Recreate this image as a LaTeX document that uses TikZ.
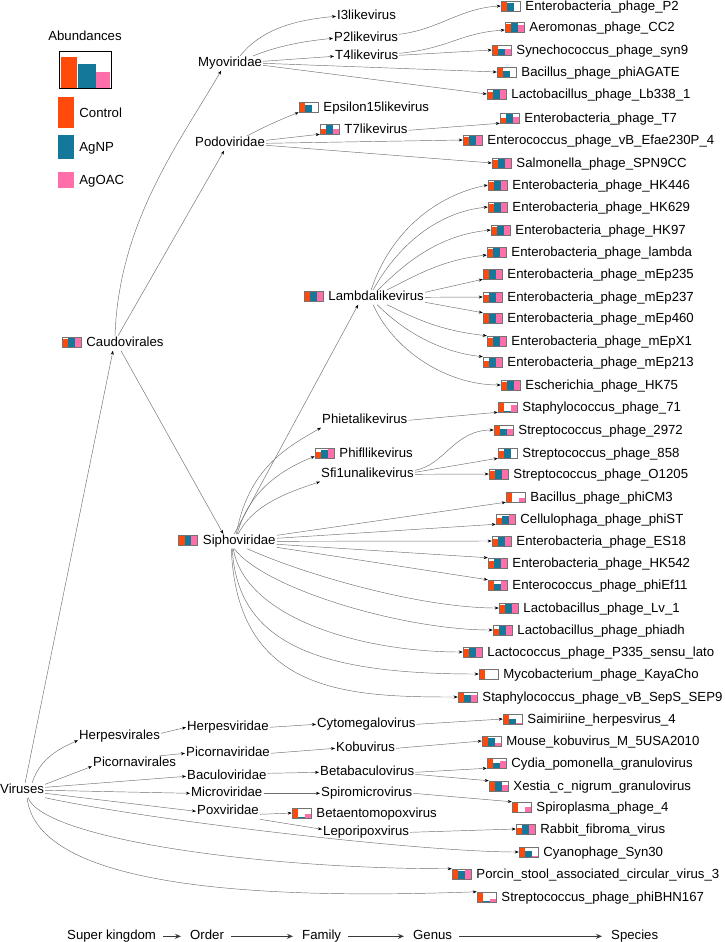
\documentclass[tikz,border=0pt]{standalone}
\usepackage{fontspec}
\setmainfont{Liberation Sans}
\usepackage{tikz}
\usetikzlibrary{positioning,arrows.meta}
\definecolor{ctrl}{HTML}{FF4A0C}
\definecolor{agnp}{HTML}{13789A}
\definecolor{agoac}{HTML}{FF6EA9}
\definecolor{wire}{HTML}{6E6E6E}
\definecolor{axis}{HTML}{3A3A3A}

\begin{document}
\begin{tikzpicture}[
  x=1pt, y=-1pt,
  node distance=4pt,
  lbl/.style    = {font=\fontsize{13.2}{15}\selectfont, inner sep=1pt,
                   text height=9.6pt, text depth=2.8pt, yshift=-1.3pt},
  taxon/.style  = {lbl, anchor=west},
  abund/.style n args={3}{draw=black!55, line width=0.5pt, fill=white, inner sep=0pt,
                  minimum width=19pt, minimum height=10pt,
                  path picture={
                    \fill[ctrl]  (path picture bounding box.south west) rectangle ++(6.33pt,#1*10pt);
                    \fill[agnp]  ([xshift=6.33pt]path picture bounding box.south west) rectangle ++(6.33pt,#2*10pt);
                    \fill[agoac] ([xshift=12.67pt]path picture bounding box.south west) rectangle ++(6.33pt,#3*10pt);}},
  swatch/.style = {minimum width=16pt, inner sep=0pt},
  link/.style   = {-{Stealth[length=4pt, width=3pt, color=black]}, draw=wire, line width=0.45pt},
  rank/.style   = {-{Stealth[length=6pt, width=5pt]}, draw=axis, line width=1.6pt, shorten <=6pt, shorten >=8pt},
]
\useasboundingbox (0,0) rectangle (724,942);

% legend
\node[lbl] (abtitle) at (85,36) {Abundances};
\fill[ctrl]  (61,57) rectangle (77,88);
\fill[agnp]  (78,64) rectangle (96,88);
\fill[agoac] (96,72) rectangle (110,88);
\draw[line width=1.6pt] (59.5,51.5) rectangle (111.5,88.5);
\node[swatch, fill=ctrl, minimum height=31pt] (ctrlsw) at (66,112.5) {};
\node[lbl, right=of ctrlsw] (ctrllab) {Control};
\node[swatch, fill=agnp, minimum height=24pt] (agnpsw) at (66,147) {};
\node[lbl, right=of agnpsw] (agnplab) {AgNP};
\node[swatch, fill=agoac, minimum height=16pt] (agoacsw) at (66,180) {};
\node[lbl, right=of agoacsw] (agoaclab) {AgOAC};

% super kingdom, order, family
\node[taxon] (vir) at (-1,789) {Viruses};
\node[abund={.85}{1}{1}] (caudoi) at (71.5,342) {};
\node[lbl, right=of caudoi] (caudo) {Caudovirales};
\node[taxon] (herpo) at (78,735) {Herpesvirales};
\node[taxon] (picoo) at (92,762) {Picornavirales};
\node[taxon] (myo) at (197,62) {Myoviridae};
\node[taxon] (podo) at (194,142) {Podoviridae};
\node[abund={.9}{1}{1}] (siphoi) at (188,540) {};
\node[lbl, right=of siphoi] (sipho) {Siphoviridae};
\node[taxon] (herpf) at (186,726) {Herpesviridae};
\node[taxon] (picof) at (185,752) {Picornaviridae};
\node[taxon] (bacu) at (186,775) {Baculoviridae};
\node[taxon] (micro) at (190,792) {Microviridae};
\node[taxon] (pox) at (196,810) {Poxviridae};

% genus
\node[taxon] (i3) at (336,15) {I3likevirus};
\node[taxon] (p2l) at (333,37) {P2likevirus};
\node[taxon] (t4l) at (334,55) {T4likevirus};
\node[abund={1}{.7}{0}] (eps15i) at (308.5,107) {};
\node[lbl, right=of eps15i] (eps15) {Epsilon15likevirus};
\node[abund={.55}{1}{.55}] (t7li) at (329.5,129) {};
\node[lbl, right=of t7li] (t7l) {T7likevirus};
\node[abund={.9}{1}{1}] (lambdali) at (313.5,296) {};
\node[lbl, right=of lambdali] (lambdal) {Lambdalikevirus};
\node[taxon] (phieta) at (321,419) {Phietalikevirus};
\node[abund={.6}{.8}{1}] (phifli) at (324.5,453) {};
\node[lbl, right=of phifli] (phifl) {Phifllikevirus};
\node[taxon] (sfi1) at (320,473) {Sfi1unalikevirus};
\node[taxon] (cyto) at (316,723) {Cytomegalovirus};
\node[taxon] (kobu) at (335,747) {Kobuvirus};
\node[taxon] (betab) at (319,771) {Betabaculovirus};
\node[taxon] (spiro) at (320,792) {Spiromicrovirus};
\node[abund={1}{.15}{.4}] (betaentoi) at (301.5,813) {};
\node[lbl, right=of betaentoi] (betaento) {Betaentomopoxvirus};
\node[taxon] (lepo) at (322,831) {Leporipoxvirus};

% species
\node[abund={1}{.75}{0}] (p2i) at (510.5,6) {};
\node[lbl, right=of p2i] (p2) {Enterobacteria\_phage\_P2};
\node[abund={.8}{1}{.7}] (cc2i) at (514.5,27) {};
\node[lbl, right=of cc2i] (cc2) {Aeromonas\_phage\_CC2};
\node[abund={1}{.55}{.55}] (syn9i) at (501.5,50) {};
\node[lbl, right=of syn9i] (syn9) {Synechococcus\_phage\_syn9};
\node[abund={1}{.6}{0}] (agatei) at (506.5,72) {};
\node[lbl, right=of agatei] (agate) {Bacillus\_phage\_phiAGATE};
\node[abund={.75}{1}{1}] (lb338i) at (496.5,94) {};
\node[lbl, right=of lb338i] (lb338) {Lactobacillus\_phage\_Lb338\_1};
\node[abund={.55}{1}{.6}] (t7i) at (509.5,118) {};
\node[lbl, right=of t7i] (t7) {Enterobacteria\_phage\_T7};
\node[abund={.8}{1}{1}] (efaei) at (472.5,140) {};
\node[lbl, right=of efaei] (efae) {Enterococcus\_phage\_vB\_Efae230P\_4};
\node[abund={.8}{1}{1}] (spn9cci) at (501.5,163) {};
\node[lbl, right=of spn9cci] (spn9cc) {Salmonella\_phage\_SPN9CC};
\node[abund={.8}{1}{1}] (hk446i) at (497.5,185) {};
\node[lbl, right=of hk446i] (hk446) {Enterobacteria\_phage\_HK446};
\node[abund={.85}{1}{1}] (hk629i) at (497.5,207) {};
\node[lbl, right=of hk629i] (hk629) {Enterobacteria\_phage\_HK629};
\node[abund={.85}{1}{1}] (hk97i) at (500.5,230) {};
\node[lbl, right=of hk97i] (hk97) {Enterobacteria\_phage\_HK97};
\node[abund={.85}{1}{1}] (lmbdi) at (496.5,252) {};
\node[lbl, right=of lmbdi] (lmbd) {Enterobacteria\_phage\_lambda};
\node[abund={.9}{1}{1}] (mep235i) at (492.5,274) {};
\node[lbl, right=of mep235i] (mep235) {Enterobacteria\_phage\_mEp235};
\node[abund={.75}{1}{1}] (mep237i) at (492.5,297) {};
\node[lbl, right=of mep237i] (mep237) {Enterobacteria\_phage\_mEp237};
\node[abund={.9}{1}{1}] (mep460i) at (492.5,318) {};
\node[lbl, right=of mep460i] (mep460) {Enterobacteria\_phage\_mEp460};
\node[abund={.8}{1}{1}] (mepx1i) at (496.5,341) {};
\node[lbl, right=of mepx1i] (mepx1) {Enterobacteria\_phage\_mEpX1};
\node[abund={.6}{1}{1}] (mep213i) at (492.5,362) {};
\node[lbl, right=of mep213i] (mep213) {Enterobacteria\_phage\_mEp213};
\node[abund={.85}{1}{1}] (hk75i) at (510.5,385) {};
\node[lbl, right=of hk75i] (hk75) {Escherichia\_phage\_HK75};
\node[abund={1}{.1}{.7}] (st71i) at (507.5,407) {};
\node[lbl, right=of st71i] (st71) {Staphylococcus\_phage\_71};
\node[abund={1}{.65}{.65}] (s2972i) at (503.5,430) {};
\node[lbl, right=of s2972i] (s2972) {Streptococcus\_phage\_2972};
\node[abund={.7}{1}{0}] (s858i) at (507.5,453) {};
\node[lbl, right=of s858i] (s858) {Streptococcus\_phage\_858};
\node[abund={.8}{1}{1}] (o1205i) at (498.5,474) {};
\node[lbl, right=of o1205i] (o1205) {Streptococcus\_phage\_O1205};
\node[abund={1}{0}{.45}] (cm3i) at (515.5,497) {};
\node[lbl, right=of cm3i] (cm3) {Bacillus\_phage\_phiCM3};
\node[abund={.6}{.8}{1}] (phisti) at (505.5,519) {};
\node[lbl, right=of phisti] (phist) {Cellulophaga\_phage\_phiST};
\node[abund={.7}{1}{1}] (es18i) at (501.5,541) {};
\node[lbl, right=of es18i] (es18) {Enterobacteria\_phage\_ES18};
\node[abund={.7}{1}{1}] (hk542i) at (497.5,563) {};
\node[lbl, right=of hk542i] (hk542) {Enterobacteria\_phage\_HK542};
\node[abund={1}{.6}{1}] (ef11i) at (497.5,585) {};
\node[lbl, right=of ef11i] (ef11) {Enterococcus\_phage\_phiEf11};
\node[abund={.8}{1}{1}] (lv1i) at (508.5,608) {};
\node[lbl, right=of lv1i] (lv1) {Lactobacillus\_phage\_Lv\_1};
\node[abund={.6}{.9}{1}] (adhi) at (502.5,630) {};
\node[lbl, right=of adhi] (adh) {Lactobacillus\_phage\_phiadh};
\node[abund={.85}{1}{1}] (p335i) at (472.5,652) {};
\node[lbl, right=of p335i] (p335) {Lactococcus\_phage\_P335\_sensu\_lato};
\node[abund={1}{0}{0}] (kayai) at (488.5,674) {};
\node[lbl, right=of kayai] (kaya) {Mycobacterium\_phage\_KayaCho};
\node[abund={1}{.7}{.7}] (sep9i) at (467.5,697) {};
\node[lbl, right=of sep9i] (sep9) {Staphylococcus\_phage\_vB\_SepS\_SEP9};
\node[abund={1}{.5}{.15}] (saimi) at (512.5,719) {};
\node[lbl, right=of saimi] (saim) {Saimiriine\_herpesvirus\_4};
\node[abund={1}{.85}{.3}] (mousei) at (491.5,741) {};
\node[lbl, right=of mousei] (mouse) {Mouse\_kobuvirus\_M\_5USA2010};
\node[abund={1}{.55}{.7}] (cydiai) at (496.5,763) {};
\node[lbl, right=of cydiai] (cydia) {Cydia\_pomonella\_granulovirus};
\node[abund={1}{.9}{.6}] (xesti) at (498.5,786) {};
\node[lbl, right=of xesti] (xest) {Xestia\_c\_nigrum\_granulovirus};
\node[abund={1}{0}{.5}] (spl4i) at (521.5,807) {};
\node[lbl, right=of spl4i] (spl4) {Spiroplasma\_phage\_4};
\node[abund={.6}{1}{1}] (rabbi) at (525.5,829) {};
\node[lbl, right=of rabbi] (rabb) {Rabbit\_fibroma\_virus};
\node[abund={1}{.6}{.1}] (syn30i) at (528.5,852) {};
\node[lbl, right=of syn30i] (syn30) {Cyanophage\_Syn30};
\node[abund={1}{.8}{1}] (porci) at (461.5,874) {};
\node[lbl, right=of porci] (porc) {Porcin\_stool\_associated\_circular\_virus\_3};
\node[abund={1}{.1}{.3}] (bhni) at (486.5,897) {};
\node[lbl, right=of bhni] (bhn) {Streptococcus\_phage\_phiBHN167};

% kingdom -> order
\draw[link] ([xshift=3pt]vir.north) -- ([xshift=-12pt]caudo.south);
\draw[link] ([xshift=10pt]vir.north) .. controls +(8,-25) and +(-18,8) .. ([yshift=-4pt]herpo.west);
\draw[link] ([yshift=6pt]vir.east) -- ([yshift=-3pt]picoo.west);
\draw[link] ([yshift=3pt]vir.east) -- (bacu.west);
\draw[link] (vir.east) -- (micro.west);
\draw[link] ([yshift=-3pt]vir.east) -- (pox.west);
\draw[link] (vir.south east) .. controls +(100,22) and +(-100,0) .. (syn30i.west);
\draw[link] ([xshift=6pt]vir.south) .. controls +(15,40) and +(-200,0) .. (porci.north west);
\draw[link] ([xshift=5pt]vir.south) .. controls +(10,90) and +(-220,8) .. (bhni.north west);

% order -> family
\draw[link] ([xshift=-10pt]caudo.north) .. controls +(4,-115) and +(-41,71) .. ([xshift=-9pt]myo.south);
\draw[link] ([xshift=-7pt]caudo.north) -- ([xshift=-6pt]podo.south);
\draw[link] ([xshift=-4pt]caudo.south) -- ([xshift=-16pt]sipho.north);
\draw[link] ([yshift=3pt]herpo.east) -- (herpf.west);
\draw[link] ([xshift=-18pt]picoo.north east) -- (picof.west);

% family -> genus
\draw[link] ([xshift=10pt]myo.north) .. controls +(20,-25) and +(-45,4) .. (i3.west);
\draw[link] ([xshift=23pt]myo.north) .. controls +(25,-10) and +(-30,3) .. (p2l.west);
\draw[link] ([yshift=2pt]myo.east) -- (t4l.west);
\draw[link] ([xshift=17pt]podo.north) .. controls +(15,-8) and +(-20,8) .. (eps15i.south west);
\draw[link] ([yshift=3pt]podo.east) -- (t7li.south west);
\draw[link] ([xshift=-5pt]sipho.north) -- ([xshift=-18pt]lambdal.south);
\draw[link] ([xshift=-3pt]sipho.north) .. controls +(12,-65) and +(-35,20) .. (phieta.south west);
\draw[link] ([xshift=-2pt]sipho.north) .. controls +(12,-45) and +(-30,12) .. ([yshift=2pt]phifli.south west);
\draw[link] ([xshift=-1pt]sipho.north) .. controls +(15,-30) and +(-30,10) .. (sfi1.south west);
\draw[link] (herpf.east) -- (cyto.west);
\draw[link] (picof.east) -- (kobu.west);
\draw[link] ([yshift=3pt]bacu.east) -- (betab.west);
\draw[link] (micro.east) -- (spiro.west);
\draw[link] ([yshift=-3pt]pox.east) -- (betaentoi.west);
\draw[link] ([yshift=-8pt]pox.east) -- ([yshift=3pt]lepo.west);

% family -> species
\draw[link] (myo.east) -- (agatei.west);
\draw[link] ([yshift=-2pt]myo.east) -- (lb338i.west);
\draw[link] (podo.east) -- (efaei.west);
\draw[link] ([yshift=-2pt]podo.east) -- (spn9cci.west);
\draw[link] ([yshift=6pt]sipho.east) -- (cm3i.south west);
\draw[link] ([yshift=3pt]sipho.east) -- (phisti.south west);
\draw[link] (sipho.east) -- (es18i.west);
\draw[link] ([yshift=-3pt]sipho.east) -- (hk542i.north west);
\draw[link] ([yshift=-6pt]sipho.east) -- (ef11i.north west);
\draw[link] ([xshift=8pt]sipho.south) .. controls +(55,25) and +(-80,0) .. (lv1i.west);
\draw[link] ([xshift=-5pt]sipho.south) .. controls +(30,40) and +(-90,0) .. (adhi.west);
\draw[link] ([xshift=-6pt]sipho.south) .. controls +(12,70) and +(-100,0) .. (p335i.west);
\draw[link] ([xshift=-7pt]sipho.south) .. controls +(5,100) and +(-150,0) .. (kayai.west);
\draw[link] ([xshift=-8pt]sipho.south) .. controls +(6,145) and +(-110,0) .. (sep9i.west);

% genus -> species
\draw[link] ([yshift=4pt]p2l.east) .. controls +(40,-5) and +(-40,2) .. (p2i.west);
\draw[link] ([yshift=3pt]t4l.east) .. controls +(50,-5) and +(-45,3) .. ([yshift=-3pt]cc2i.west);
\draw[link] ([yshift=1pt]t4l.east) -- (syn9i.west);
\draw[link] (t7l.east) -- (t7i.south west);
\draw[link] ([xshift=-5pt]lambdal.north) .. controls +(20,-60) and +(-50,10) .. (hk446i.west);
\draw[link] ([xshift=-3pt]lambdal.north) .. controls +(25,-45) and +(-50,5) .. (hk629i.west);
\draw[link] ([xshift=2pt]lambdal.north) .. controls +(30,-30) and +(-50,5) .. (hk97i.west);
\draw[link] ([xshift=11pt]lambdal.north) .. controls +(30,-15) and +(-45,5) .. ([yshift=-3pt]lmbdi.west);
\draw[link] ([yshift=5pt]lambdal.east) -- (mep235i.south west);
\draw[link] (lambdal.east) -- (mep237i.west);
\draw[link] ([yshift=-5pt]lambdal.east) -- (mep460i.north west);
\draw[link] ([xshift=11pt]lambdal.south) .. controls +(30,15) and +(-45,-5) .. (mepx1i.north west);
\draw[link] ([xshift=1pt]lambdal.south) .. controls +(25,25) and +(-45,-5) .. (mep213i.north west);
\draw[link] ([xshift=-3pt]lambdal.south) .. controls +(20,45) and +(-55,0) .. (hk75i.west);
\draw[link] (phieta.east) -- (st71i.south west);
\draw[link] ([yshift=4pt]sfi1.east) .. controls +(30,-5) and +(-40,0) .. (s2972i.west);
\draw[link] ([yshift=2pt]sfi1.east) -- (s858i.south west);
\draw[link] (sfi1.east) -- (o1205i.west);
\draw[link] (cyto.east) -- (saimi.west);
\draw[link] (kobu.east) -- (mousei.west);
\draw[link] (betab.east) -- (cydiai.south west);
\draw[link] ([yshift=-2pt]betab.east) -- (xesti.north west);
\draw[link] (spiro.east) -- (spl4i.north west);
\draw[link] (lepo.east) -- (rabbi.west);

% rank axis
\node[taxon] (rsk) at (66,935) {Super kingdom};
\node[taxon] (rord) at (189,935) {Order};
\node[taxon] (rfam) at (301,935) {Family};
\node[taxon] (rgen) at (412,935) {Genus};
\node[taxon] (rspe) at (610,935) {Species};
\draw[rank] (rsk) -- (rord);
\draw[rank] (rord) -- (rfam);
\draw[rank] (rfam) -- (rgen);
\draw[rank] (rgen) -- (rspe);

\end{tikzpicture}
\end{document}
